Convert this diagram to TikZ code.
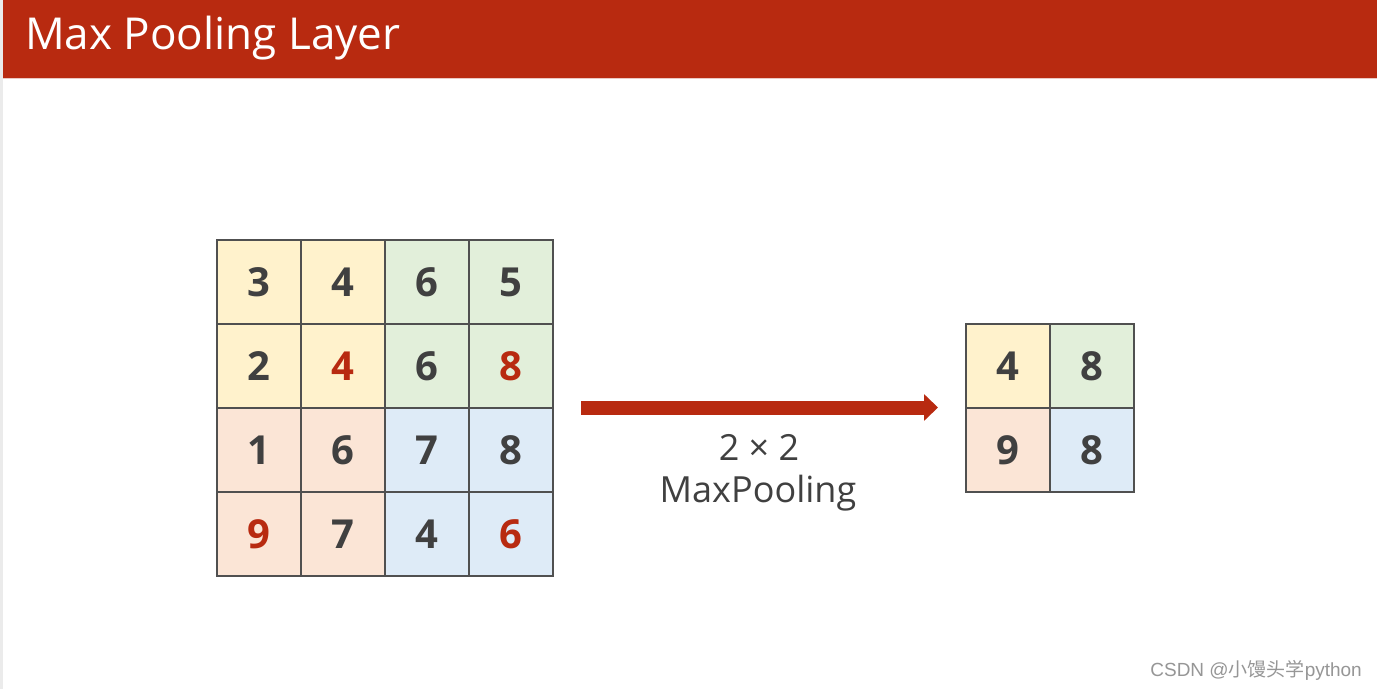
\documentclass[tikz,border=0pt]{standalone}
\usepackage{fontspec}
\setmainfont{Open Sans}
\newfontfamily\wmfont{Liberation Sans}
\newfontfamily\cjk{Noto Sans CJK SC}
\usetikzlibrary{arrows.meta}
\definecolor{brick}{RGB}{184,42,16}
\definecolor{numgray}{RGB}{64,64,64}
\definecolor{cyellow}{RGB}{255,242,204}
\definecolor{cgreen}{RGB}{226,239,218}
\definecolor{cpeach}{RGB}{251,229,214}
\definecolor{cblue}{RGB}{222,235,247}
\definecolor{gridline}{RGB}{80,80,80}
\definecolor{stripgray}{RGB}{235,235,235}
\definecolor{wmgray}{RGB}{150,150,150}
\begin{document}
\begin{tikzpicture}[x=1pt,y=-1pt,
  cell/.style={draw=gridline, line width=1.2pt, minimum size=84pt, inner sep=0pt,
    font=\fontsize{40}{40}\selectfont\bfseries, text=numgray},
  maxnum/.style={text=brick},
  Y/.style={cell, fill=cyellow},
  G/.style={cell, fill=cgreen},
  P/.style={cell, fill=cpeach},
  B/.style={cell, fill=cblue},
  bigarrow/.style={draw=brick, line width=14pt, -{Triangle[length=14pt,width=26pt]}},
  label/.style={text=numgray, font=\fontsize{36}{42}\selectfont, align=center, inner sep=0pt}
]
\useasboundingbox (0,0) rectangle (1377,689);
\fill[white] (0,0) rectangle (1377,689);
\fill[stripgray] (0,0) rectangle (3,689);
% title bar
\fill[brick] (3,0) rectangle (1377,78);
\draw[color={rgb,255:red,235;green,200;blue,195}, line width=1pt] (3,78.5) -- (1377,78.5);
\node[anchor=base west, text=white, font=\fontsize{44}{44}\selectfont, inner sep=0pt] (title) at (25,49) {Max Pooling Layer};

% input grid 4x4
\node[Y] (c11) at (259,282) {3};
\node[Y] (c12) at (343,282) {4};
\node[G] (c13) at (427,282) {6};
\node[G] (c14) at (511,282) {5};
\node[Y] (c21) at (259,366) {2};
\node[Y, maxnum] (c22) at (343,366) {4};
\node[G] (c23) at (427,366) {6};
\node[G, maxnum] (c24) at (511,366) {8};
\node[P] (c31) at (259,450) {1};
\node[P] (c32) at (343,450) {6};
\node[B] (c33) at (427,450) {7};
\node[B] (c34) at (511,450) {8};
\node[P, maxnum] (c41) at (259,534) {9};
\node[P] (c42) at (343,534) {7};
\node[B] (c43) at (427,534) {4};
\node[B, maxnum] (c44) at (511,534) {6};

% output grid 2x2
\node[Y] (o11) at (1008,366) {4};
\node[G] (o12) at (1092,366) {8};
\node[P] (o21) at (1008,450) {9};
\node[B] (o22) at (1092,450) {8};

% arrow
\coordinate (arrS) at (581,407.5);
\coordinate (arrE) at (938,407.5);
\draw[bigarrow] (arrS) -- (arrE);
\node[label, anchor=base] (lab1) at (759,460) {2 × 2};
\node[label, anchor=base] (lab2) at (758,502) {MaxPooling};

% watermark
\node[anchor=base east, text=wmgray, font=\fontsize{19}{19}\selectfont\wmfont, inner sep=0pt] (wm) at (1362,676) {CSDN @{\cjk 小馒头学}python};
\end{tikzpicture}
\end{document}
